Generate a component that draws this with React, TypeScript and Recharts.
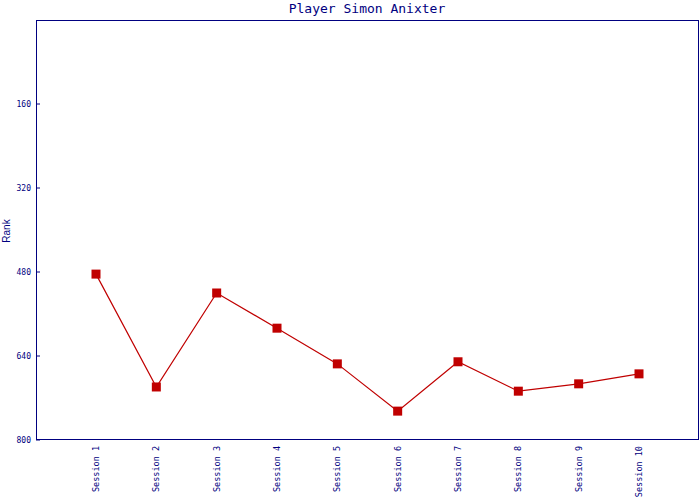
import React from 'react';
import { LineChart, Line, XAxis, YAxis } from 'recharts';

const sessions = [
  'Session 1', 'Session 2', 'Session 3', 'Session 4', 'Session 5',
  'Session 6', 'Session 7', 'Session 8', 'Session 9', 'Session 10',
];
const ranks = [484, 699, 520, 587, 655, 745, 651, 707, 693, 674];
const rankTicks = [160, 320, 480, 640, 800];

const data = sessions.map((session, i) => ({ session, rank: ranks[i] }));

const NAVY = '#000080';
const RED = '#c00000';
const FONT = '"DejaVu Sans Mono", "Liberation Mono", monospace';

const SquareDot = (props: any) => {
  const { cx, cy } = props;
  if (cx == null || cy == null) return null;
  return <rect x={cx - 4.5} y={cy - 4.5} width={9} height={9} fill={RED} />;
};

// tick mark points into the plot, label sits left of the axis
const YTick = (props: any) => {
  const { y, payload } = props;
  return (
    <g>
      <line x1={36} y1={y} x2={40} y2={y} stroke={NAVY} strokeWidth={1} />
      <text x={31} y={y} dy="0.35em" textAnchor="end" fontSize={8} fontFamily={FONT} fill={NAVY}>
        {payload.value}
      </text>
    </g>
  );
};

const XTick = (props: any) => {
  const { x, payload } = props;
  return (
    <text
      transform={`translate(${x}, 446) rotate(-90)`}
      dy="0.35em"
      textAnchor="end"
      fontSize={8.5}
      fontFamily={FONT}
      fill={NAVY}
    >
      {payload.value}
    </text>
  );
};

export default function App() {
  return (
    <div style={{ position: 'absolute', left: 0, top: 0, width: 700, height: 500, background: '#fff' }}>
      <LineChart width={700} height={500} data={data} margin={{ top: 20, right: 1, bottom: 0, left: 0 }}>
        <text x={367} y={13} textAnchor="middle" fontSize={13} fontFamily={FONT} fill={NAVY}>
          Player Simon Anixter
        </text>
        <text
          transform="translate(10, 231) rotate(-90)"
          textAnchor="middle"
          fontSize={10}
          fontFamily="Arial, 'Liberation Sans', sans-serif"
          fill={NAVY}
        >
          Rank
        </text>
        <rect x={36.5} y={20.5} width={662} height={419} fill="none" stroke={NAVY} strokeWidth={1} />
        <XAxis
          dataKey="session"
          height={60}
          padding={{ left: 60, right: 60 }}
          interval={0}
          axisLine={false}
          tickLine={false}
          tick={<XTick />}
        />
        <YAxis
          width={36}
          domain={[0, 800]}
          reversed
          ticks={rankTicks}
          interval={0}
          tickSize={0}
          tickMargin={5}
          axisLine={false}
          tickLine={false}
          tick={<YTick />}
        />
        <Line
          dataKey="rank"
          type="linear"
          stroke={RED}
          strokeWidth={1.2}
          dot={<SquareDot />}
          activeDot={false}
          isAnimationActive={false}
        />
      </LineChart>
    </div>
  );
}
